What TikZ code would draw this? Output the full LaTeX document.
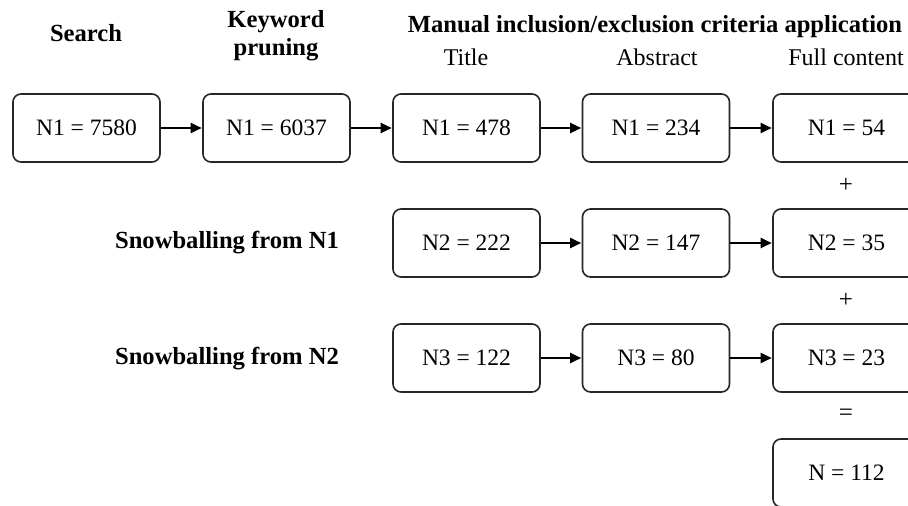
\documentclass[tikz,border=0pt]{standalone}
\usepackage{fontspec}
\setmainfont{Liberation Serif}
\usetikzlibrary{arrows.meta}
\tikzset{
  box/.style={draw=black!85, line width=1.6pt, rounded corners=8pt, minimum width=147pt, minimum height=68pt, inner sep=0pt, font=\fontsize{23.5}{26}\selectfont},
  head/.style={font=\bfseries\fontsize{24.6}{28}\selectfont, align=center, inner sep=0pt},
  sub/.style={font=\fontsize{24}{26}\selectfont, inner sep=0pt},
  flow/.style={line width=2pt, -{Triangle[length=11pt,width=10pt]}, shorten >=0.5pt},
  op/.style={font=\fontsize{25}{26}\selectfont, inner sep=0pt}
}
\begin{document}
\begin{tikzpicture}[x=1pt,y=-1pt]
\useasboundingbox (0,0) rectangle (908,506);
\clip (0,0) rectangle (908,506);
% headers
\node[head] (hs) at (86,33) {Search};
\node[head] (hk) at (276,35.5) {Keyword\\pruning};
\node[head] (hm) at (655,27) {Manual inclusion/exclusion criteria application};
\node[sub] (ht) at (466,57) {Title};
\node[sub] (ha) at (657,57) {Abstract};
\node[sub] (hf) at (846,57) {Full content};
\node[head] (s1) at (227,243) {Snowballing from N1};
\node[head] (s2) at (227,359) {Snowballing from N2};
% row 1
\node[box] (a1) at (86.5,128) {N1 = 7580};
\node[box] (a2) at (276.5,128) {N1 = 6037};
\node[box] (a3) at (466.5,128) {N1 = 478};
\node[box] (a4) at (656,128) {N1 = 234};
\node[box] (a5) at (846.5,128) {N1 = 54};
% row 2
\node[box] (b3) at (466.5,243) {N2 = 222};
\node[box] (b4) at (656,243) {N2 = 147};
\node[box] (b5) at (846.5,243) {N2 = 35};
% row 3
\node[box] (c3) at (466.5,358) {N3 = 122};
\node[box] (c4) at (656,358) {N3 = 80};
\node[box] (c5) at (846.5,358) {N3 = 23};
% total
\node[box] (d5) at (846.5,473) {N = 112};
% operators
\node[op] (p1) at (846,185) {+};
\node[op] (p2) at (846,300) {+};
\node[op] (eq) at (846,415) {=};
% arrows
\draw[flow] (a1) -- (a2);
\draw[flow] (a2) -- (a3);
\draw[flow] (a3) -- (a4);
\draw[flow] (a4) -- (a5);
\draw[flow] (b3) -- (b4);
\draw[flow] (b4) -- (b5);
\draw[flow] (c3) -- (c4);
\draw[flow] (c4) -- (c5);
\end{tikzpicture}
\end{document}
